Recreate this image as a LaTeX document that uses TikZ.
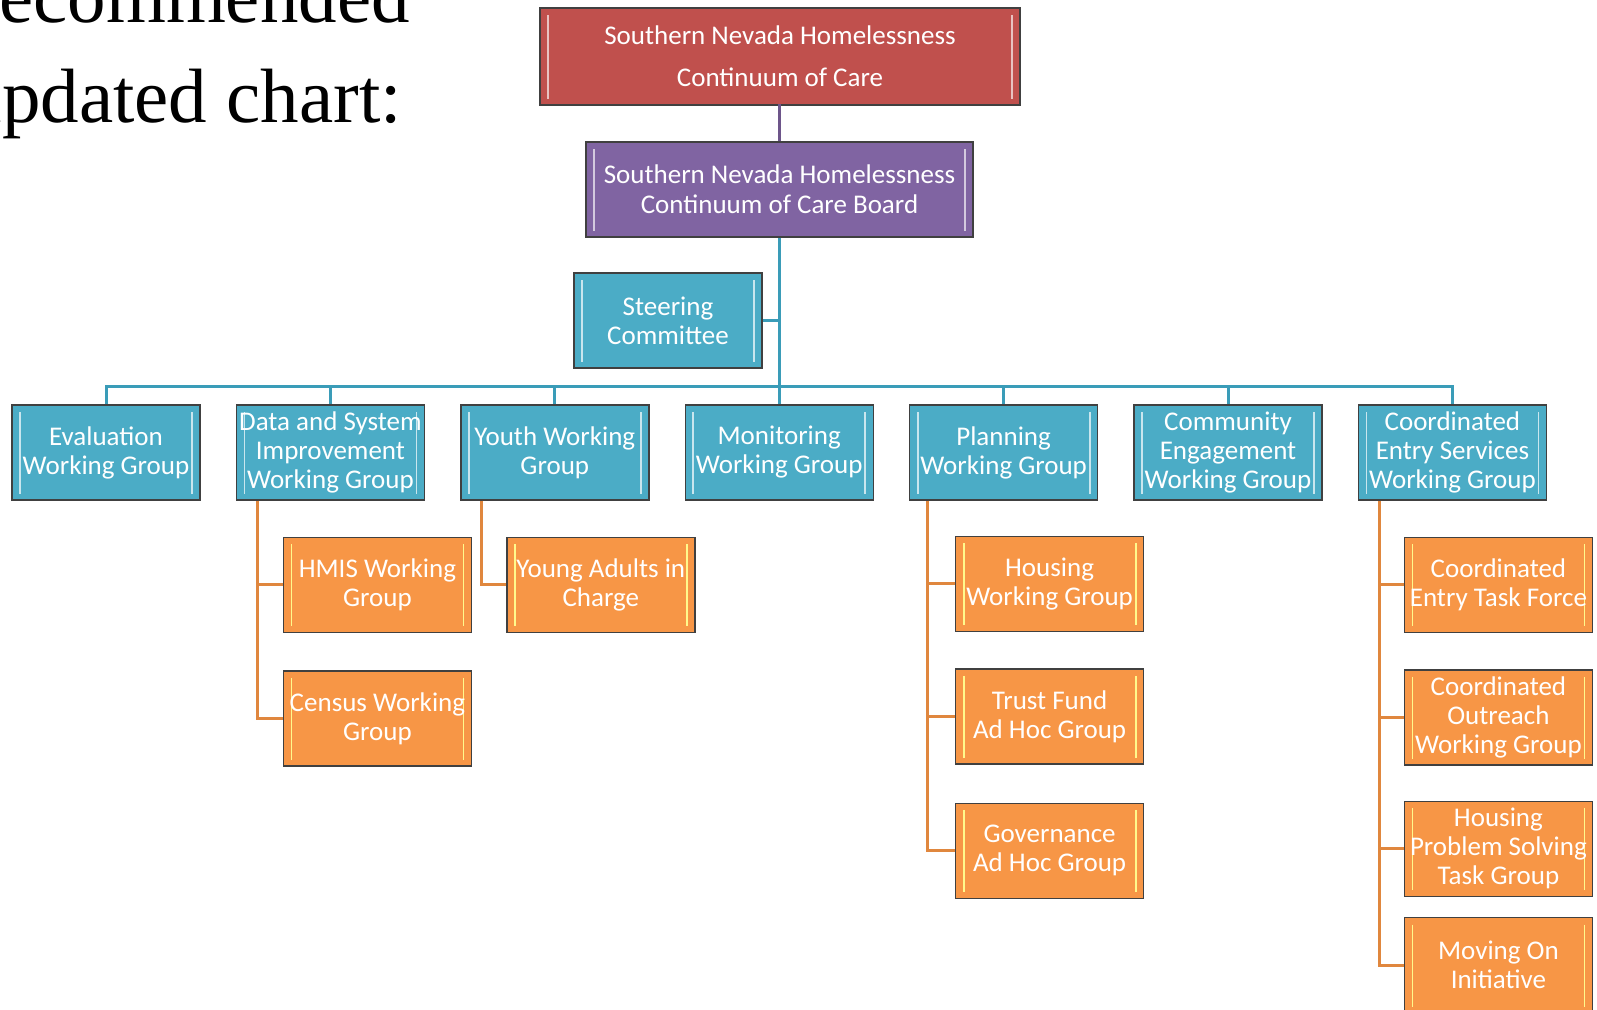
\documentclass[tikz,border=0pt]{standalone}
\usepackage{fontspec}
\setmainfont{Liberation Serif}
\newfontfamily\boxfont{Carlito}
\usetikzlibrary{positioning, calc}

\definecolor{cocred}{HTML}{C0504D}
\definecolor{cocpurple}{HTML}{8064A2}
\definecolor{cocblue}{HTML}{4BACC6}
\definecolor{cocorange}{HTML}{F79646}
\definecolor{boxedge}{HTML}{404040}
\definecolor{bluelink}{HTML}{3A9CB8}
\definecolor{orangelink}{HTML}{E0873E}

\tikzset{stripes/.style={path picture={
  \draw[#1, line width=1.8pt]
    ([xshift=8pt,yshift=-7pt]path picture bounding box.north west) --
    ([xshift=8pt,yshift=6pt]path picture bounding box.south west);
  \draw[#1, line width=1.8pt]
    ([xshift=-8pt,yshift=-7pt]path picture bounding box.north east) --
    ([xshift=-8pt,yshift=6pt]path picture bounding box.south east);}}}

\tikzstyle{unit}    = [rectangle, draw=boxedge, line width=1.4pt, text=white, align=center,
                       inner sep=0pt, font=\boxfont\fontsize{27}{29}\selectfont]
\tikzstyle{topbox}  = [unit, fill=cocred, minimum width=480pt, minimum height=97pt,
                       stripes=cocred!35!white, font=\boxfont\fontsize{27}{42}\selectfont]
\tikzstyle{board}   = [unit, fill=cocpurple, minimum width=387pt, minimum height=95pt,
                       stripes=cocpurple!35!white, font=\boxfont\fontsize{27}{30}\selectfont]
\tikzstyle{wgroup}  = [unit, fill=cocblue, minimum width=188pt, minimum height=95pt,
                       stripes=cocblue!30!white]
\tikzstyle{subgroup}= [unit, fill=cocorange, minimum width=188pt, minimum height=95pt,
                       stripes=yellow!45!white]
\tikzstyle{blink}   = [draw=bluelink, line width=3pt]
\tikzstyle{olink}   = [draw=orangelink, line width=3pt]

\begin{document}
\begin{tikzpicture}[x=1pt, y=-1pt]

  \useasboundingbox (0,0) rectangle (1597,1009);
  \clip (0,0) rectangle (1597,1009);

  % Slide title
  \node (title1) [anchor=base east, inner sep=0pt, font=\fontsize{77}{99}\selectfont] at (410,23) {Recommended};
  \node (title2) [anchor=base east, inner sep=0pt, font=\fontsize{77}{99}\selectfont] at (402,122) {updated chart:};

  % Continuum of Care and Board
  \node (coc)   [topbox] at (780,56.5) {Southern Nevada Homelessness\\ Continuum of Care};
  \node (board) [board]  at (779.5,189.5) {Southern Nevada Homelessness\\ Continuum of Care Board};
  \node (steer) [wgroup] at (668,320.5) {Steering\\ Committee};

  % Working groups
  \node (eval)    [wgroup] at (106,452.5) {Evaluation\\ Working Group};
  \node (data)    [wgroup, right=35pt of eval]    {Data and System\\ Improvement\\ Working Group};
  \node (youth)   [wgroup, right=35pt of data]    {Youth Working\\ Group};
  \node (monitor) [wgroup, right=35pt of youth]   {Monitoring\\ Working Group};
  \node (plan)    [wgroup, right=35pt of monitor] {Planning\\ Working Group};
  \node (engage)  [wgroup, right=35pt of plan]    {Community\\ Engagement\\ Working Group};
  \node (ces)     [wgroup, right=35pt of engage]  {Coordinated\\ Entry Services\\ Working Group};

  % Sub groups
  \node (hmis)    [subgroup, below=36pt of data, xshift=47pt]  {HMIS Working\\ Group};
  \node (census)  [subgroup, below=37pt of hmis]               {Census Working\\ Group};
  \node (yaic)    [subgroup, below=36pt of youth, xshift=46pt] {Young Adults in\\ Charge};
  \node (housing) [subgroup, below=35pt of plan, xshift=46pt]  {Housing\\ Working Group};
  \node (trust)   [subgroup, below=36pt of housing]            {Trust Fund\\ Ad Hoc Group};
  \node (govern)  [subgroup, below=38pt of trust]              {Governance\\ Ad Hoc Group};
  \node (cetf)    [subgroup, below=36pt of ces, xshift=46pt]   {Coordinated\\ Entry Task Force};
  \node (outreach)[subgroup, below=36pt of cetf]               {Coordinated\\ Outreach\\ Working Group};
  \node (hpsolve) [subgroup, below=35pt of outreach]           {Housing\\ Problem Solving\\ Task Group};
  \node (movon)   [subgroup, below=20pt of hpsolve]            {Moving On\\ Initiative};

  % Top links
  \draw[draw=cocpurple!85!black, line width=3pt] (coc.south) -- (board.south |- coc.south) -- (board.north);
  \coordinate (bus) at ($(board.south)+(0,149)$);
  \draw[blink] (board.south) -- (board.south |- monitor.north);
  \draw[blink] (steer.east) -- (steer.east -| board.south);
  \foreach \wg in {eval, data, youth, plan, engage, ces}
    \draw[blink] (bus) -| (\wg.north);

  % Sub group links
  \coordinate (datal) at ([xshift=22pt]data.south west);
  \draw[olink] (datal) |- (census.west);
  \draw[olink] (datal |- hmis.west) -- (hmis.west);
  \coordinate (youthl) at ([xshift=21pt]youth.south west);
  \draw[olink] (youthl) |- (yaic.west);
  \coordinate (planl) at ([xshift=19pt]plan.south west);
  \draw[olink] (planl) |- (govern.west);
  \foreach \sg in {housing, trust}
    \draw[olink] (planl |- \sg.west) -- (\sg.west);
  \coordinate (cesl) at ([xshift=22pt]ces.south west);
  \draw[olink] (cesl) |- (movon.west);
  \foreach \sg in {cetf, outreach, hpsolve}
    \draw[olink] (cesl |- \sg.west) -- (\sg.west);

\end{tikzpicture}
\end{document}
